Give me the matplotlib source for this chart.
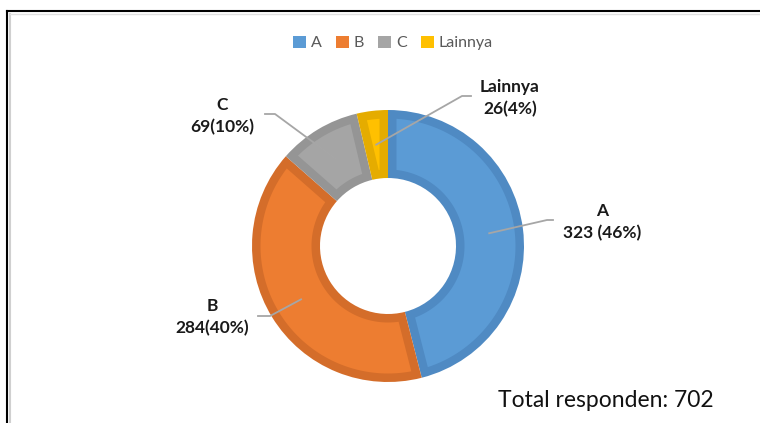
import matplotlib
matplotlib.use('Agg')
import matplotlib.pyplot as plt
from matplotlib.lines import Line2D
from matplotlib.patches import Patch, Wedge, Polygon
import numpy as np

# data
categories = ['A', 'B', 'C', 'Lainnya']
values = [323, 284, 69, 26]
label_texts = ['A\n323 (46%)', 'B\n284(40%)', 'C\n69(10%)', 'Lainnya\n26(4%)']
total_text = 'Total responden: 702'

fill_colors = ['#5B9BD5', '#ED7D31', '#A5A5A5', '#FFC000']
edge_colors = ['#4F8AC3', '#D46D2A', '#959595', '#E5AC00']

# label centres and leader elbows in pixel coords (from top-left)
label_pos = [(602, 222), (212, 317), (222, 116), (510, 98)]
elbow_pts = [[(553, 220), (547, 220)],
             [(258, 316), (270, 316)],
             [(265, 114), (275, 114)],
             [(471, 96), (462, 96)]]

W, H = 760, 423
fig = plt.figure(figsize=(W / 100, H / 100), dpi=100)
plt.rcParams['font.family'] = ['Lato', 'DejaVu Sans']


def px(x, y):
    return x / W, 1 - y / H


# donut: centre (388, 246), outer radius 136 px
cx, cy, R = 388, 246, 136
ax = fig.add_axes([(cx - R) / W, (H - cy - R) / H, 2 * R / W, 2 * R / H])
ax.set_xlim(-1, 1)
ax.set_ylim(-1, 1)
ax.axis('off')

r_out, r_in = 1.0, 0.5
d = 8.5 / R  # border width in data units

fracs = np.array(values) / sum(values)
starts = np.concatenate([[0], np.cumsum(fracs)[:-1]])
for i in range(len(values)):
    t2 = 90 - 360 * starts[i]
    t1 = t2 - 360 * fracs[i]
    ax.add_patch(Wedge((0, 0), r_out, t1, t2, width=r_out - r_in,
                       facecolor=edge_colors[i], edgecolor='none'))
    # lighter inset fill
    ro, ri = r_out - d, r_in + d
    rr = np.linspace(ri, ro, 60)
    half = np.degrees(np.arcsin(np.clip(d / rr, 0, 1)))
    ok = (t2 - t1) > 2 * half
    if ok.sum() < 2:
        continue
    rr = rr[ok]
    half = half[ok]
    a_o = half[-1]
    th_o = np.radians(np.linspace(t1 + a_o, t2 - a_o, 80))
    left = np.c_[rr * np.cos(np.radians(t2 - half)), rr * np.sin(np.radians(t2 - half))][::-1]
    right = np.c_[rr * np.cos(np.radians(t1 + half)), rr * np.sin(np.radians(t1 + half))]
    top = np.c_[ro * np.cos(th_o), ro * np.sin(th_o)]
    if ok.all():
        a_i = half[0]
        th_i = np.radians(np.linspace(t2 - a_i, t1 + a_i, 80))
        bottom = np.c_[ri * np.cos(th_i), ri * np.sin(th_i)]
        pts = np.concatenate([top, left, bottom, right])
    else:
        pts = np.concatenate([top, left, right])
    ax.add_patch(Polygon(pts, closed=True, facecolor=fill_colors[i], edgecolor='none'))

# leader lines + labels
for i, (txt, (lx, ly)) in enumerate(zip(label_texts, label_pos)):
    ang = np.deg2rad(90 - 360 * (starts[i] + fracs[i] / 2))
    r = 0.75
    wx = cx + R * r * np.cos(ang)
    wy = cy - R * r * np.sin(ang)
    pts = elbow_pts[i] + [(wx, wy)]
    xs = [px(p[0], p[1])[0] for p in pts]
    ys = [px(p[0], p[1])[1] for p in pts]
    fig.add_artist(Line2D(xs, ys, color='#A6A6A6', lw=1.3, transform=fig.transFigure))
    fx, fy = px(lx, ly)
    fig.text(fx, fy, txt, ha='center', va='center', fontsize=12.5, fontweight='bold',
             color='#1a1a1a', linespacing=1.4)

# legend
handles = [Patch(facecolor=c, edgecolor='none') for c in fill_colors]
leg = fig.legend(handles, categories, loc='center', bbox_to_anchor=px(393, 43), ncol=4,
                 frameon=False, fontsize=11.5, handlelength=0.8, handleheight=0.8,
                 handletextpad=0.3, columnspacing=0.9)
for t in leg.get_texts():
    t.set_color('#595959')

fig.text(*px(498, 400), total_text, ha='left', va='center', fontsize=16.5, color='#111111')

# frame
fig.add_artist(Line2D([7 / W, 1], [1 - 11 / H] * 2, color='black', lw=1.5,
                      transform=fig.transFigure))
fig.add_artist(Line2D([7 / W, 7 / W], [0, 1 - 11 / H], color='black', lw=1.5,
                      transform=fig.transFigure))
fig.add_artist(Line2D([10 / W, 10 / W], [0, 1 - 14 / H], color='#d0d0d0', lw=1.5,
                      transform=fig.transFigure))
fig.add_artist(Line2D([10 / W, 1], [1 - 14 / H] * 2, color='#e0e0e0', lw=1,
                      transform=fig.transFigure))

fig.savefig('out.png', dpi=100)
